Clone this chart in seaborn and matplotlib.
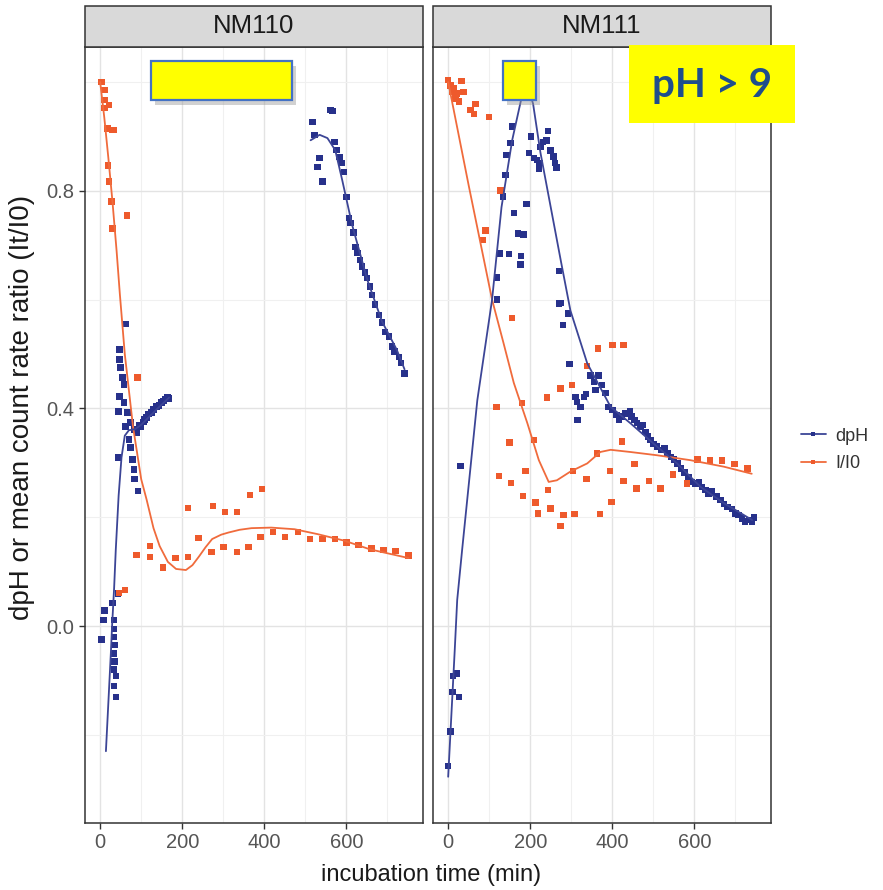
import numpy as np
import pandas as pd
import matplotlib
matplotlib.use("Agg")
import matplotlib.pyplot as plt
from matplotlib.patches import Rectangle
from matplotlib.lines import Line2D
import seaborn as sns

# ---- data ----
panels = ["NM110", "NM111"]
series = ["dpH", "I/I0"]
colors = {"dpH": "#27318B", "I/I0": "#EE5A2C"}
line_colors = {"dpH": "#3C4596", "I/I0": "#F06B3C"}

# NM110 dpH points
nm110_dph_t = [3, 8, 11, 30, 34, 34, 34, 35, 34, 35, 34, 38, 34, 38, 44,
               47, 47, 50, 55, 58, 47, 58, 45, 67, 62, 74, 70, 74, 45, 79, 82, 84, 92, 62,
               84, 90, 95, 100, 105, 108, 113, 118, 125, 130, 137, 143, 149, 154, 159, 164, 168,
               518, 561, 566, 523, 535, 530, 542, 571, 576, 583, 588, 595, 600, 607, 610, 617,
               622, 627, 634, 638, 646, 651, 658, 663, 670, 680, 687, 694, 704, 711, 718, 728,
               733, 742]
nm110_dph_v = [-0.025, 0.011, 0.029, 0.042, 0.011, -0.005, -0.02, -0.035, -0.05, -0.065, -0.08,
               -0.092, -0.11, -0.13, 0.06,
               0.508, 0.49, 0.475, 0.457, 0.444, 0.422, 0.411, 0.394, 0.393, 0.367, 0.374, 0.343,
               0.328, 0.31, 0.306, 0.288, 0.27, 0.248, 0.555,
               0.361, 0.355, 0.37, 0.367, 0.375, 0.38, 0.383, 0.39, 0.393, 0.398, 0.404, 0.405,
               0.411, 0.414, 0.417, 0.42, 0.418,
               0.927, 0.949, 0.947, 0.903, 0.86, 0.844, 0.817, 0.89, 0.875, 0.862, 0.851, 0.835,
               0.789, 0.75, 0.741, 0.723, 0.697, 0.686, 0.673, 0.661, 0.65, 0.64, 0.624, 0.609,
               0.591, 0.572, 0.558, 0.541, 0.532, 0.514, 0.505, 0.495, 0.484, 0.464]

# NM110 I/I0 points
nm110_ii0_t = [3, 10, 11, 10, 22, 18, 30, 33, 19, 22, 28, 30, 65, 91, 46, 60,
               89, 121, 121, 153, 184, 214, 214, 240, 275, 272, 301, 304, 333, 333, 362, 365,
               394, 391, 421, 450, 482, 511, 542, 572, 601, 630, 662, 691, 720, 752]
nm110_ii0_v = [1.0, 0.985, 0.967, 0.952, 0.958, 0.915, 0.912, 0.912, 0.847, 0.817, 0.78, 0.731,
               0.755, 0.457, 0.061, 0.066,
               0.131, 0.147, 0.127, 0.108, 0.125, 0.127, 0.217, 0.162, 0.221, 0.136, 0.145, 0.21,
               0.21, 0.136, 0.145, 0.241, 0.252, 0.164, 0.173, 0.164, 0.173, 0.16, 0.16, 0.16,
               0.154, 0.149, 0.143, 0.14, 0.138, 0.13]

# NM111 dpH points
nm111_dph_t = [0, 6, 10, 26, 12, 20, 30,
               119, 119, 126, 148, 178, 176, 170, 184, 160, 191, 134, 140, 142, 152, 156,
               202, 197, 209, 217, 223, 221, 225, 231, 240, 243, 249, 257, 260, 264, 270, 274,
               270, 292, 280, 296, 310, 314, 322, 315, 331, 336, 347, 355, 359, 367, 375, 383,
               391, 400, 410, 416, 424, 432, 443, 447, 454, 460, 469, 475, 481, 487, 493, 500,
               509, 519, 527, 535, 543, 551, 559, 568, 576, 586, 594, 603, 611, 619, 627, 635,
               643, 654, 664, 672, 681, 692, 700, 708, 716, 724, 733, 741, 745]
nm111_dph_v = [-0.257, -0.194, -0.121, -0.13, -0.092, -0.087, 0.294,
               0.6, 0.641, 0.685, 0.684, 0.68, 0.665, 0.722, 0.72, 0.759, 0.776, 0.79, 0.829,
               0.866, 0.888, 0.918,
               0.9, 0.87, 0.86, 0.857, 0.851, 0.841, 0.881, 0.89, 0.893, 0.91, 0.874, 0.863,
               0.851, 0.843, 0.653, 0.594,
               0.593, 0.575, 0.553, 0.482, 0.421, 0.412, 0.403, 0.379, 0.421, 0.427, 0.461, 0.449,
               0.434, 0.461, 0.443, 0.428, 0.403, 0.397, 0.388, 0.379, 0.385, 0.391, 0.394, 0.385,
               0.379, 0.373, 0.366, 0.37, 0.357, 0.348, 0.342, 0.335, 0.33, 0.324, 0.327, 0.317,
               0.311, 0.306, 0.299, 0.29, 0.282, 0.274, 0.265, 0.262, 0.265, 0.256, 0.25, 0.244,
               0.247, 0.238, 0.232, 0.224, 0.219, 0.215, 0.207, 0.204, 0.198, 0.192, 0.195, 0.192,
               0.2]

# NM111 I/I0 points
nm111_ii0_t = [0, 6, 14, 10, 22, 32, 37, 18, 26, 67, 55, 63, 99, 128, 91, 85,
               156, 400, 428, 365, 118, 180, 241, 274, 302, 339, 150, 209, 424, 363, 124, 153,
               188, 304, 337, 394, 428, 454, 489, 459, 517, 548, 582, 608, 638, 667, 698, 730,
               182, 213, 243, 219, 249, 281, 308, 274, 370, 398]
nm111_ii0_v = [1.004, 0.994, 0.988, 0.982, 0.979, 1.002, 0.982, 0.97, 0.964, 0.96, 0.949, 0.941,
               0.936, 0.801, 0.727, 0.71,
               0.566, 0.517, 0.517, 0.51, 0.403, 0.41, 0.42, 0.437, 0.443, 0.478, 0.337, 0.342,
               0.339, 0.317, 0.276, 0.263, 0.285, 0.285, 0.27, 0.285, 0.267, 0.298, 0.267, 0.253,
               0.253, 0.279, 0.262, 0.306, 0.304, 0.304, 0.298, 0.29,
               0.239, 0.227, 0.25, 0.207, 0.216, 0.204, 0.206, 0.184, 0.206, 0.228]

# smoothed curves
nm110_dph_fit1_t = [14, 20, 26, 29, 34, 38, 45, 52, 60, 70, 85, 100, 120, 140, 168]
nm110_dph_fit1_v = [-0.23, -0.14, -0.05, 0.0, 0.07, 0.14, 0.24, 0.31, 0.35, 0.36, 0.362, 0.37,
                    0.385, 0.40, 0.42]
nm110_dph_fit2_t = [513, 535, 554, 573, 590, 614, 651, 687, 723, 742]
nm110_dph_fit2_v = [0.893, 0.903, 0.897, 0.875, 0.82, 0.738, 0.637, 0.56, 0.508, 0.472]
nm110_ii0_fit_t = [0, 10, 20, 30, 40, 48, 60, 80, 100, 113, 130, 145, 165, 185, 209, 225, 241,
                   257, 273, 295, 313, 340, 369, 417, 474, 530, 595, 658, 752]
nm110_ii0_fit_v = [1.0, 0.935, 0.86, 0.78, 0.69, 0.61, 0.5, 0.367, 0.27, 0.233, 0.18, 0.147,
                   0.118, 0.105, 0.103, 0.112, 0.128, 0.145, 0.16, 0.168, 0.172, 0.177, 0.18,
                   0.181, 0.178, 0.169, 0.157, 0.141, 0.125]
nm111_dph_fit_t = [0, 16, 22, 34, 71, 107, 130, 156, 180, 195, 207, 225, 250, 275, 298, 339,
                   396, 444, 509, 558, 615, 672, 741]
nm111_dph_fit_v = [-0.277, -0.044, 0.048, 0.14, 0.415, 0.6, 0.77, 0.893, 0.975, 0.99, 0.96,
                   0.87, 0.77, 0.67, 0.58, 0.483, 0.403, 0.373, 0.33, 0.299, 0.256, 0.226, 0.195]
nm111_ii0_fit_t = [0, 50, 107, 135, 160, 193, 221, 245, 265, 298, 339, 371, 396, 444, 509, 590,
                   672, 740]
nm111_ii0_fit_v = [1.0, 0.81, 0.6, 0.52, 0.447, 0.373, 0.305, 0.265, 0.268, 0.284, 0.299, 0.32,
                   0.324, 0.32, 0.314, 0.305, 0.293, 0.28]


def frame(t, v, panel, ser, seg="a"):
    return pd.DataFrame({"t": t, "v": v, "panel": panel, "series": ser, "seg": seg})


pts = pd.concat([
    frame(nm110_dph_t, nm110_dph_v, "NM110", "dpH"),
    frame(nm110_ii0_t, nm110_ii0_v, "NM110", "I/I0"),
    frame(nm111_dph_t, nm111_dph_v, "NM111", "dpH"),
    frame(nm111_ii0_t, nm111_ii0_v, "NM111", "I/I0"),
], ignore_index=True)

fits = pd.concat([
    frame(nm110_dph_fit1_t, nm110_dph_fit1_v, "NM110", "dpH", "a"),
    frame(nm110_dph_fit2_t, nm110_dph_fit2_v, "NM110", "dpH", "b"),
    frame(nm110_ii0_fit_t, nm110_ii0_fit_v, "NM110", "I/I0", "c"),
    frame(nm111_dph_fit_t, nm111_dph_fit_v, "NM111", "dpH", "a"),
    frame(nm111_ii0_fit_t, nm111_ii0_fit_v, "NM111", "I/I0", "c"),
], ignore_index=True)

# ---- figure ----
sns.set_theme(style="white")
plt.rcParams["font.family"] = ["Liberation Sans", "DejaVu Sans"]

W, H = 883, 890
fig = plt.figure(figsize=(W / 100, H / 100), dpi=100)


def fx(px):
    return px / W


def fy(py):
    return 1 - py / H


panel_x = {"NM110": (85, 423), "NM111": (433, 771)}
top_px, bot_px, strip_top = 46.7, 823, 6

for i, p in enumerate(panels):
    x0, x1 = panel_x[p]
    ax = fig.add_axes([fx(x0), fy(bot_px), fx(x1) - fx(x0), fy(top_px) - fy(bot_px)])
    ax.set_xlim(-37, 787)
    ax.set_ylim(-0.362, 1.065)
    ax.set_xticks([0, 200, 400, 600])
    ax.set_xticks([100, 300, 500, 700], minor=True)
    ax.set_yticks([0.0, 0.4, 0.8])
    ax.set_yticks([-0.2, 0.2, 0.6, 1.0], minor=True)
    ax.grid(which="major", color="#E3E3E3", lw=1.0)
    ax.grid(which="minor", color="#F0F0F0", lw=0.8)
    ax.set_axisbelow(True)

    sns.scatterplot(data=pts[pts.panel == p], x="t", y="v", hue="series", palette=colors,
                    marker="s", s=22, linewidth=0, legend=False, ax=ax, zorder=3)
    sub = fits[fits.panel == p]
    for (ser, seg), g in sub.groupby(["series", "seg"]):
        sns.lineplot(data=g, x="t", y="v", color=line_colors[ser], lw=1.3, sort=False,
                     estimator=None, legend=False, ax=ax, zorder=4)

    ax.set_xlabel("")
    ax.set_ylabel("")
    for s in ax.spines.values():
        s.set_color("#333333")
        s.set_linewidth(1.1)
    ax.tick_params(axis="both", which="major", length=4, width=1, color="#333333",
                   labelcolor="#555555", labelsize=14.5, bottom=True, left=(i == 0))
    ax.tick_params(axis="both", which="minor", length=0)
    if i == 0:
        ax.set_yticklabels(["0.0", "0.4", "0.8"])
    else:
        ax.set_yticklabels([])

    # facet strip
    fig.patches.append(Rectangle((fx(x0), fy(top_px)), fx(x1) - fx(x0), fy(strip_top) - fy(top_px),
                                 transform=fig.transFigure, facecolor="#D9D9D9",
                                 edgecolor="#333333", lw=1.1))
    fig.text(fx((x0 + x1) / 2), fy((strip_top + top_px) / 2), p, ha="center", va="center",
             fontsize=18.5, color="#1A1A1A")

fig.text(fx(431), fy(875), "incubation time (min)", ha="center", va="center",
         fontsize=17, color="#1A1A1A")
fig.text(fx(22), fy(407), "dpH or mean count rate ratio (It/I0)", ha="center", va="center",
         rotation=90, fontsize=20, color="#1A1A1A")

# legend
handles = [Line2D([], [], color=line_colors[s], lw=1.3, marker="s", markersize=3.5,
                  markerfacecolor=colors[s], markeredgewidth=0) for s in series]
fig.legend(handles, ["dpH", "I/I0"], loc="center left", bbox_to_anchor=(fx(797), fy(450)),
           frameon=False, fontsize=13, handlelength=1.4, handletextpad=0.5,
           labelspacing=0.6, borderpad=0.2, borderaxespad=0, labelcolor="#333333")

# yellow highlight overlays
def box(x0, y0, x1, y1, edge=True):
    fig.patches.append(Rectangle((fx(x0 + 4), fy(y1 + 5)), fx(x1 - x0), fy(y0) - fy(y1),
                                 transform=fig.transFigure, facecolor="#9A9A9A", alpha=0.45,
                                 lw=0, zorder=9))
    fig.patches.append(Rectangle((fx(x0), fy(y1)), fx(x1 - x0), fy(y0) - fy(y1),
                                 transform=fig.transFigure, facecolor="#FFFF00",
                                 edgecolor="#4472C4" if edge else "none", lw=1.6, zorder=10))


box(151, 61, 292, 100)
box(503, 61, 536, 100)
fig.patches.append(Rectangle((fx(629), fy(123)), fx(795 - 629), fy(45) - fy(123),
                             transform=fig.transFigure, facecolor="#FFFF00", lw=0, zorder=10))
fig.text(fx(712), fy(86), "pH > 9", ha="center", va="center", fontsize=29,
         fontweight="bold", color="#1F4E8C", family=["Lato", "DejaVu Sans"], zorder=11)

fig.savefig("out.png", dpi=100)
